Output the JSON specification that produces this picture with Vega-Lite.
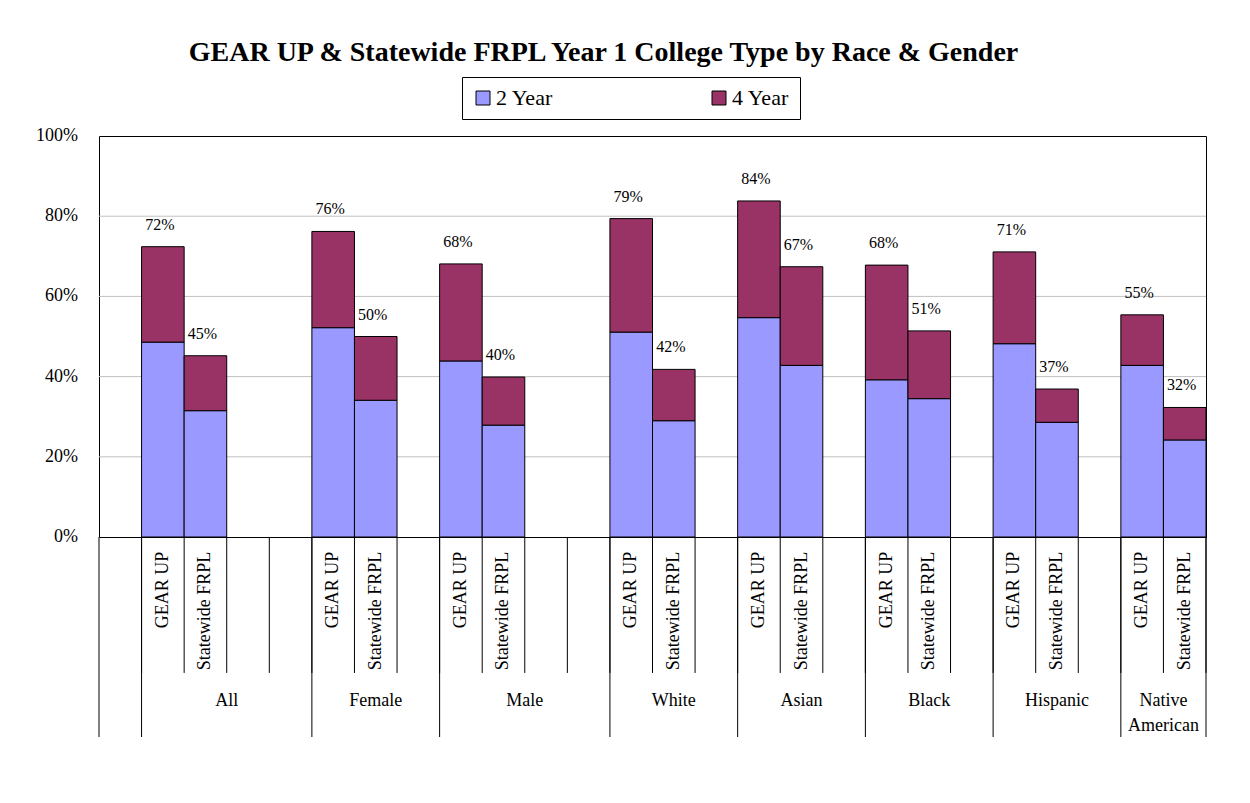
{
  "$schema": "https://vega.github.io/schema/vega-lite/v6.json",
  "width": 1107,
  "height": 401,
  "autosize": {"type": "none"},
  "padding": {"left": 99, "top": 136, "right": 44, "bottom": 266},
  "background": "white",
  "title": {
    "text": "GEAR UP & Statewide FRPL Year 1 College Type by Race & Gender",
    "font": "Liberation Serif",
    "fontSize": 28,
    "fontWeight": "bold",
    "color": "black",
    "anchor": "middle",
    "frame": "group",
    "dx": -49,
    "offset": 10
  },
  "config": {
    "view": {"stroke": "black", "strokeWidth": 1},
    "font": "Liberation Serif"
  },
  "datasets": {
    "bars": [
      {"group": "All", "source": "GEAR UP", "slot": "All|GEAR UP", "year": "2 Year", "pct": 0.486},
      {"group": "All", "source": "GEAR UP", "slot": "All|GEAR UP", "year": "4 Year", "pct": 0.238},
      {"group": "All", "source": "Statewide FRPL", "slot": "All|Statewide FRPL", "year": "2 Year", "pct": 0.315},
      {"group": "All", "source": "Statewide FRPL", "slot": "All|Statewide FRPL", "year": "4 Year", "pct": 0.137},
      {"group": "Female", "source": "GEAR UP", "slot": "Female|GEAR UP", "year": "2 Year", "pct": 0.522},
      {"group": "Female", "source": "GEAR UP", "slot": "Female|GEAR UP", "year": "4 Year", "pct": 0.240},
      {"group": "Female", "source": "Statewide FRPL", "slot": "Female|Statewide FRPL", "year": "2 Year", "pct": 0.341},
      {"group": "Female", "source": "Statewide FRPL", "slot": "Female|Statewide FRPL", "year": "4 Year", "pct": 0.159},
      {"group": "Male", "source": "GEAR UP", "slot": "Male|GEAR UP", "year": "2 Year", "pct": 0.439},
      {"group": "Male", "source": "GEAR UP", "slot": "Male|GEAR UP", "year": "4 Year", "pct": 0.242},
      {"group": "Male", "source": "Statewide FRPL", "slot": "Male|Statewide FRPL", "year": "2 Year", "pct": 0.279},
      {"group": "Male", "source": "Statewide FRPL", "slot": "Male|Statewide FRPL", "year": "4 Year", "pct": 0.120},
      {"group": "White", "source": "GEAR UP", "slot": "White|GEAR UP", "year": "2 Year", "pct": 0.511},
      {"group": "White", "source": "GEAR UP", "slot": "White|GEAR UP", "year": "4 Year", "pct": 0.283},
      {"group": "White", "source": "Statewide FRPL", "slot": "White|Statewide FRPL", "year": "2 Year", "pct": 0.290},
      {"group": "White", "source": "Statewide FRPL", "slot": "White|Statewide FRPL", "year": "4 Year", "pct": 0.128},
      {"group": "Asian", "source": "GEAR UP", "slot": "Asian|GEAR UP", "year": "2 Year", "pct": 0.547},
      {"group": "Asian", "source": "GEAR UP", "slot": "Asian|GEAR UP", "year": "4 Year", "pct": 0.291},
      {"group": "Asian", "source": "Statewide FRPL", "slot": "Asian|Statewide FRPL", "year": "2 Year", "pct": 0.428},
      {"group": "Asian", "source": "Statewide FRPL", "slot": "Asian|Statewide FRPL", "year": "4 Year", "pct": 0.246},
      {"group": "Black", "source": "GEAR UP", "slot": "Black|GEAR UP", "year": "2 Year", "pct": 0.392},
      {"group": "Black", "source": "GEAR UP", "slot": "Black|GEAR UP", "year": "4 Year", "pct": 0.286},
      {"group": "Black", "source": "Statewide FRPL", "slot": "Black|Statewide FRPL", "year": "2 Year", "pct": 0.345},
      {"group": "Black", "source": "Statewide FRPL", "slot": "Black|Statewide FRPL", "year": "4 Year", "pct": 0.169},
      {"group": "Hispanic", "source": "GEAR UP", "slot": "Hispanic|GEAR UP", "year": "2 Year", "pct": 0.482},
      {"group": "Hispanic", "source": "GEAR UP", "slot": "Hispanic|GEAR UP", "year": "4 Year", "pct": 0.229},
      {"group": "Hispanic", "source": "Statewide FRPL", "slot": "Hispanic|Statewide FRPL", "year": "2 Year", "pct": 0.286},
      {"group": "Hispanic", "source": "Statewide FRPL", "slot": "Hispanic|Statewide FRPL", "year": "4 Year", "pct": 0.083},
      {"group": "Native American", "source": "GEAR UP", "slot": "Native American|GEAR UP", "year": "2 Year", "pct": 0.428},
      {"group": "Native American", "source": "GEAR UP", "slot": "Native American|GEAR UP", "year": "4 Year", "pct": 0.126},
      {"group": "Native American", "source": "Statewide FRPL", "slot": "Native American|Statewide FRPL", "year": "2 Year", "pct": 0.242},
      {"group": "Native American", "source": "Statewide FRPL", "slot": "Native American|Statewide FRPL", "year": "4 Year", "pct": 0.081}
    ],
    "yticks": [
      {"v": 0, "slot": "_0"},
      {"v": 0.2, "slot": "_0"},
      {"v": 0.4, "slot": "_0"},
      {"v": 0.6, "slot": "_0"},
      {"v": 0.8, "slot": "_0"},
      {"v": 1, "slot": "_0"}
    ],
    "slots": [
      {"slot": "_0"}, {"slot": "All|GEAR UP"}, {"slot": "All|Statewide FRPL"}, {"slot": "All|b1"}, {"slot": "All|b2"},
      {"slot": "Female|GEAR UP"}, {"slot": "Female|Statewide FRPL"}, {"slot": "Female|b1"},
      {"slot": "Male|GEAR UP"}, {"slot": "Male|Statewide FRPL"}, {"slot": "Male|b1"}, {"slot": "Male|b2"},
      {"slot": "White|GEAR UP"}, {"slot": "White|Statewide FRPL"}, {"slot": "White|b1"},
      {"slot": "Asian|GEAR UP"}, {"slot": "Asian|Statewide FRPL"}, {"slot": "Asian|b1"},
      {"slot": "Black|GEAR UP"}, {"slot": "Black|Statewide FRPL"}, {"slot": "Black|b1"},
      {"slot": "Hispanic|GEAR UP"}, {"slot": "Hispanic|Statewide FRPL"}, {"slot": "Hispanic|b1"},
      {"slot": "Native American|GEAR UP"}, {"slot": "Native American|Statewide FRPL"}
    ],
    "groupMid": [
      {"group": "Female", "slot": "Female|Statewide FRPL"},
      {"group": "White", "slot": "White|Statewide FRPL"},
      {"group": "Asian", "slot": "Asian|Statewide FRPL"},
      {"group": "Black", "slot": "Black|Statewide FRPL"},
      {"group": "Hispanic", "slot": "Hispanic|Statewide FRPL"}
    ],
    "groupEdge": [
      {"group": "All", "slot": "All|Statewide FRPL"},
      {"group": "Male", "slot": "Male|Statewide FRPL"},
      {"group": "Native American", "slot": "Native American|GEAR UP"}
    ],
    "groupEnds": [
      {"slot": "_0"},
      {"slot": "All|b2"},
      {"slot": "Female|b1"},
      {"slot": "Male|b2"},
      {"slot": "White|b1"},
      {"slot": "Asian|b1"},
      {"slot": "Black|b1"},
      {"slot": "Hispanic|b1"},
      {"slot": "Native American|Statewide FRPL"}
    ],
    "groupStarts": [
      {"slot": "_0"}
    ]
  },
  "layer": [
    {
      "data": {"name": "yticks"},
      "transform": [{"filter": "datum.v > 0 && datum.v < 1"}],
      "mark": {"type": "rule", "color": "#C0C0C0", "strokeWidth": 1},
      "encoding": {
        "y": {"field": "v", "type": "quantitative", "axis": null}
      }
    },
    {
      "data": {"name": "bars"},
      "mark": {"type": "bar", "stroke": "black", "strokeWidth": 1},
      "encoding": {
        "x": {
          "field": "slot",
          "type": "nominal",
          "sort": null,
          "axis": null,
          "scale": {
            "domain": ["_0", "All|GEAR UP", "All|Statewide FRPL", "All|b1", "All|b2", "Female|GEAR UP", "Female|Statewide FRPL", "Female|b1", "Male|GEAR UP", "Male|Statewide FRPL", "Male|b1", "Male|b2", "White|GEAR UP", "White|Statewide FRPL", "White|b1", "Asian|GEAR UP", "Asian|Statewide FRPL", "Asian|b1", "Black|GEAR UP", "Black|Statewide FRPL", "Black|b1", "Hispanic|GEAR UP", "Hispanic|Statewide FRPL", "Hispanic|b1", "Native American|GEAR UP", "Native American|Statewide FRPL"],
            "paddingInner": 0,
            "paddingOuter": 0
          }
        },
        "y": {
          "field": "pct",
          "type": "quantitative",
          "stack": "zero",
          "axis": null,
          "scale": {"domain": [0, 1], "nice": false}
        },
        "color": {
          "field": "year",
          "type": "nominal",
          "scale": {"domain": ["2 Year", "4 Year"], "range": ["#9999FF", "#993366"]},
          "legend": {
            "orient": "none",
            "legendX": 363,
            "legendY": -59,
            "direction": "horizontal",
            "title": null,
            "strokeColor": "black",
            "fillColor": "white",
            "padding": 10,
            "symbolType": "square",
            "symbolSize": 196,
            "symbolStrokeColor": "black",
            "symbolStrokeWidth": 1,
            "symbolOpacity": 1,
            "labelFont": "Liberation Serif",
            "labelFontSize": 22,
            "labelColor": "black",
            "labelOffset": 2,
            "labelLimit": 300,
            "columnPadding": 154
          }
        },
        "order": {"field": "year", "sort": "ascending"}
      }
    },
    {
      "data": {"name": "bars"},
      "transform": [{"aggregate": [{"op": "sum", "field": "pct", "as": "total"}], "groupby": ["slot"]}],
      "mark": {"type": "text", "font": "Liberation Serif", "fontSize": 16, "color": "black", "baseline": "middle", "align": "center", "dy": -22, "dx": -3},
      "encoding": {
        "x": {"field": "slot", "type": "nominal", "sort": null, "axis": null},
        "y": {"field": "total", "type": "quantitative", "axis": null},
        "text": {"field": "total", "type": "quantitative", "format": ".0%"}
      }
    },
    {
      "data": {"name": "yticks"},
      "mark": {"type": "text", "font": "Liberation Serif", "fontSize": 18, "color": "black", "baseline": "middle", "align": "right", "dx": -21},
      "encoding": {
        "x": {"field": "slot", "type": "nominal", "sort": null, "axis": null, "bandPosition": 0},
        "y": {"field": "v", "type": "quantitative", "axis": null},
        "text": {"field": "v", "type": "quantitative", "format": ".0%"}
      }
    },
    {
      "data": {"name": "bars"},
      "transform": [{"aggregate": [{"op": "count", "as": "n"}], "groupby": ["slot", "source"]}],
      "mark": {"type": "text", "font": "Liberation Serif", "fontSize": 18, "color": "black", "baseline": "middle", "align": "right", "angle": 270},
      "encoding": {
        "x": {"field": "slot", "type": "nominal", "sort": null, "axis": null},
        "y": {"datum": -0.0367, "type": "quantitative", "axis": null},
        "text": {"field": "source", "type": "nominal"}
      }
    },
    {
      "data": {"name": "slots"},
      "mark": {"type": "rule", "color": "black", "strokeWidth": 1},
      "encoding": {
        "x": {"field": "slot", "type": "nominal", "sort": null, "axis": null, "bandPosition": 1},
        "y": {"datum": 0, "type": "quantitative", "axis": null},
        "y2": {"datum": -0.339}
      }
    },
    {
      "data": {"name": "groupEnds"},
      "mark": {"type": "rule", "color": "black", "strokeWidth": 1},
      "encoding": {
        "x": {"field": "slot", "type": "nominal", "sort": null, "axis": null, "bandPosition": 1},
        "y": {"datum": 0, "type": "quantitative", "axis": null},
        "y2": {"datum": -0.4988}
      }
    },
    {
      "data": {"name": "groupStarts"},
      "mark": {"type": "rule", "color": "black", "strokeWidth": 1},
      "encoding": {
        "x": {"field": "slot", "type": "nominal", "sort": null, "axis": null, "bandPosition": 0},
        "y": {"datum": 0, "type": "quantitative", "axis": null},
        "y2": {"datum": -0.4988}
      }
    },
    {
      "data": {"name": "groupMid"},
      "mark": {"type": "text", "font": "Liberation Serif", "fontSize": 18, "color": "black", "baseline": "top", "align": "center", "lineBreak": " ", "lineHeight": 25},
      "encoding": {
        "x": {"field": "slot", "type": "nominal", "sort": null, "axis": null},
        "y": {"datum": -0.3865, "type": "quantitative", "axis": null},
        "text": {"field": "group", "type": "nominal"}
      }
    },
    {
      "data": {"name": "groupEdge"},
      "mark": {"type": "text", "font": "Liberation Serif", "fontSize": 18, "color": "black", "baseline": "top", "align": "center", "lineBreak": " ", "lineHeight": 25},
      "encoding": {
        "x": {"field": "slot", "type": "nominal", "sort": null, "axis": null, "bandPosition": 1},
        "y": {"datum": -0.3865, "type": "quantitative", "axis": null},
        "text": {"field": "group", "type": "nominal"}
      }
    }
  ]
}
